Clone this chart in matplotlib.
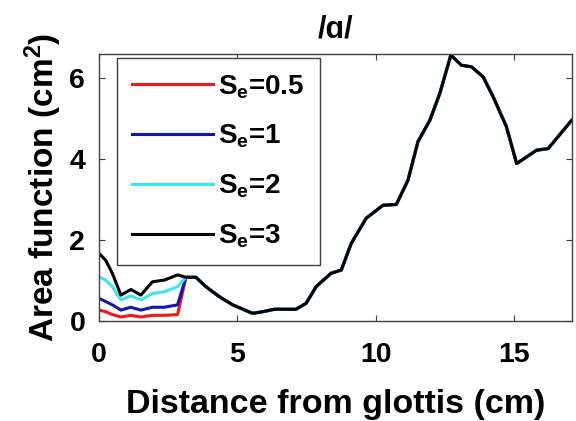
import matplotlib.pyplot as plt

plt.rcParams['font.family'] = ['Liberation Sans', 'DejaVu Sans']
plt.rcParams['font.weight'] = 'bold'
plt.rcParams['mathtext.fontset'] = 'custom'
plt.rcParams['mathtext.rm'] = 'Liberation Sans:bold'
plt.rcParams['mathtext.it'] = 'Liberation Sans:bold'
plt.rcParams['mathtext.bf'] = 'Liberation Sans:bold'

# Tramo glotal (cada S_e difiere aquí)
x_glotal = [0, 0.24, 0.48, 0.79, 1.15, 1.51, 1.93, 2.36, 2.84, 3.14]
a_s05 = [0.27, 0.23, 0.16, 0.10, 0.14, 0.10, 0.14, 0.14, 0.16, 1.08]
a_s1 = [0.56, 0.48, 0.40, 0.27, 0.34, 0.27, 0.34, 0.34, 0.40, 1.08]
a_s2 = [1.09, 1.01, 0.85, 0.52, 0.62, 0.52, 0.68, 0.72, 0.85, 1.08]
a_s3 = [1.67, 1.50, 1.18, 0.64, 0.78, 0.64, 0.97, 1.01, 1.14, 1.08]

# Resto del tracto (común a todos)
x_tracto = [3.5, 3.86, 4.35, 4.83, 5.55, 5.92, 6.34, 7.12, 7.49, 7.85,
            8.39, 8.76, 9.12, 9.66, 10.27, 10.75, 11.17, 11.53, 11.96, 12.32,
            12.72, 13.1, 13.47, 13.89, 14.25, 14.73, 15.1, 15.82, 16.24, 17.09]
a_tracto = [1.08, 0.85, 0.60, 0.40, 0.19, 0.23, 0.29, 0.29, 0.44, 0.85,
            1.18, 1.26, 1.92, 2.54, 2.86, 2.88, 3.48, 4.43, 4.96, 5.62,
            6.57, 6.32, 6.28, 6.03, 5.54, 4.80, 3.89, 4.22, 4.26, 4.96]

etiquetas = [r'S$_\mathregular{e}$=0.5', r'S$_\mathregular{e}$=1',
             r'S$_\mathregular{e}$=2', r'S$_\mathregular{e}$=3']
colores = ['#f01818', '#1414b4', '#3ce6f0', 'black']
series = [a_s05, a_s1, a_s2, a_s3]

fig = plt.figure(figsize=(5.76, 4.21), dpi=100)
ax = fig.add_axes([0.172, 0.2375, 0.821, 0.6345])

for a, c, lab in zip(series, colores, etiquetas):
    ax.plot(x_glotal + x_tracto, a + a_tracto, color=c, lw=2.2, label=lab)

ax.set_xlim(0, 17.1)
ax.set_ylim(0, 6.6)
ax.set_xticks([0, 5, 10, 15])
ax.set_yticks([0, 2, 4, 6])
ax.tick_params(direction='in', top=True, right=True, labelsize=20.5,
               length=4, width=0.8, color='#404040')
ax.tick_params(axis='x', pad=15)
ax.tick_params(axis='y', pad=10)
for spine in ax.spines.values():
    spine.set_color('#404040')
    spine.set_linewidth(1.0)

ax.set_xlabel('Distance from glottis (cm)', fontsize=24.5, fontweight='bold', labelpad=15)
ax.set_ylabel(r'Area function (cm$^\mathregular{2}$)', fontsize=24, fontweight='bold', labelpad=4)
ax.set_title('/ɑ/', fontsize=22, fontweight='bold', pad=12)

leg = ax.legend(loc='upper left', bbox_to_anchor=(0.038, 0.985), fontsize=20,
                handlelength=2.9, handletextpad=0.2, labelspacing=0.8,
                borderpad=0.55, fancybox=False, framealpha=1, borderaxespad=0)
leg.get_frame().set_edgecolor('#404040')
leg.get_frame().set_linewidth(1.0)

plt.savefig('out.png', dpi=100, facecolor='white')
